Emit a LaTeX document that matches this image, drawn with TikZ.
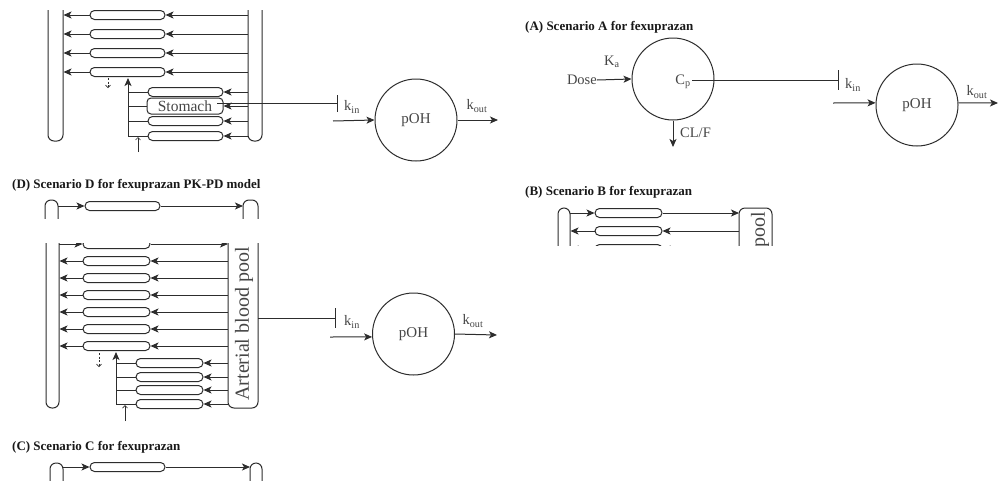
\documentclass[tikz,border=0pt]{standalone}
\usepackage{fontspec}
\setmainfont{Liberation Serif}
\usetikzlibrary{arrows.meta}
\definecolor{lc}{RGB}{45,45,45}
\definecolor{tc}{RGB}{70,70,70}
\tikzset{
  base/.style={line width=1pt, draw=lc},
  arr/.style={base, -{Stealth[length=8pt,width=7pt,inset=2pt]}},
  thinarr/.style={draw=lc, line width=0.7pt, -{Straight Barb[length=2.5pt,width=5pt]}},
  dasharr/.style={thinarr, dash pattern=on 2pt off 1.5pt},
  comp/.style={base, rounded corners=4.5pt, minimum height=9pt, inner sep=0pt},
  tube/.style={base, rounded corners=6pt},
  pdcirc/.style={base, circle, minimum size=82pt, inner sep=0pt, text=tc, font=\fontsize{15}{15}\selectfont},
  ttl/.style={anchor=west, font=\bfseries\fontsize{13}{13}\selectfont, inner sep=0pt, text=black!90},
  lab/.style={text=tc, font=\fontsize{14.5}{14.5}\selectfont, inner sep=0pt},
  pooltxt/.style={text=tc, font=\fontsize{20}{20}\selectfont, inner sep=0pt, rotate=90},
}
\begin{document}
\begin{tikzpicture}[x=1pt,y=-1pt]
\useasboundingbox[fill=white] (0,0) rectangle (998,480);

% ---------- top-left panel ----------
\draw[tube] (48,10) -- (48,141) -- (63,141) -- (63,10);
\draw[tube] (248,10) -- (248,141) -- (262,141) -- (262,10);
\foreach \i/\y in {1/15,2/34,3/53,4/72}{
  \node[comp, minimum width=75pt] (tl\i) at (127.5,\y) {};
  \draw[arr] (tl\i.west) -- (63.5,\y);
  \draw[arr] (248,\y) -- (tl\i.east);
}
\foreach \i/\y in {1/92,3/121,4/136}{
  \node[comp, minimum width=75pt] (tb\i) at (185.5,\y) {};
  \draw[base] (128,\y) -- (tb\i.west);
  \draw[arr] (248,\y) -- (tb\i.east);
}
\node[comp, minimum width=76pt, minimum height=16pt, rounded corners=4pt, text=tc, font=\fontsize{15.5}{15.5}\selectfont] (stom) at (185,106) {Stomach};
\draw[base] (128,106) -- (stom.west);
\draw[arr] (248,106) -- (stom.east);
\draw[arr] (128,136) -- (128,78);
\draw[dasharr] (108,78) -- (108,88);
\draw[thinarr] (138,152) -- (138,137);
\node[pdcirc] (poh1) at (416,120) {pOH};
\coordinate (inh1) at (337,103);
\draw[base] (217,103) -- (inh1);
\draw[base] (337,95) -- (337,112);
\node[lab, anchor=west] (kin1) at (344,107) {k\textsubscript{in}};
\coordinate (s1) at (333,121);
\draw[arr] (s1) -- (poh1.west);
\coordinate (e1) at (498,120);
\draw[arr] (poh1.east) -- (e1);
\node[lab] (kout1) at (477,106) {k\textsubscript{out}};

% ---------- panel A ----------
\node[ttl] (tA) at (525,27) {(A) Scenario A for fexuprazan};
\node[pdcirc] (cp) at (673,79) {};
\node[lab] (cplab) at (683,82) {C\textsubscript{p}};
\node[lab, anchor=east] (dose) at (597,80) {Dose};
\draw[arr] (dose.east) -- (cp.west);
\node[lab, anchor=west] (ka) at (604,62) {K\textsubscript{a}};
\coordinate (inhA) at (838,80);
\draw[base] (692,80) -- (inhA);
\draw[base] (838,70) -- (838,90);
\node[lab, anchor=west] (kinA) at (845,85) {k\textsubscript{in}};
\node[pdcirc] (poh2) at (917,105) {pOH};
\coordinate (sA) at (833,103);
\draw[arr] (sA) -- (poh2.177);
\coordinate (eA) at (998,103);
\draw[arr] (poh2.3) -- (eA);
\node[lab] (koutA) at (977,92) {k\textsubscript{out}};
\coordinate (clA) at (673,147);
\draw[arr] (cp.south) -- (clA);
\node[lab, anchor=west] (clf) at (680,133) {CL/F};

% ---------- panel B ----------
\node[ttl] (tB) at (525,192) {(B) Scenario B for fexuprazan};
\begin{scope}
  \clip (540,200) rectangle (800,245);
  \draw[tube] (558,255) -- (558,208) -- (570,208) -- (570,255);
  \draw[tube] (739,255) -- (739,208) -- (772,208) -- (772,255);
  \node[comp, minimum width=67pt] (b1) at (628.5,213) {};
  \draw[arr] (570,213) -- (b1.west);
  \draw[arr] (b1.east) -- (739,213);
  \foreach \i/\y in {2/231,3/249}{
    \node[comp, minimum width=67pt] (b\i) at (628.5,\y) {};
    \draw[arr] (739,\y) -- (b\i.east);
    \draw[arr] (b\i.west) -- (570.5,\y);
  }
  \node[pooltxt, anchor=east] (poolB) at (760,212) {pool};
\end{scope}

% ---------- panel D ----------
\node[ttl] (tD) at (12,185) {(D) Scenario D for fexuprazan PK-PD model};
\begin{scope}
  \clip (30,195) rectangle (280,218);
  \draw[tube] (45,225) -- (45,200) -- (58,200) -- (58,225);
  \draw[tube] (243,225) -- (243,200) -- (258,200) -- (258,225);
  \node[comp, minimum width=75pt] (dt) at (122.5,206) {};
  \draw[arr] (58,206) -- (dt.west);
  \draw[arr] (dt.east) -- (243,206);
\end{scope}
\begin{scope}
  \clip (30,243) rectangle (280,430);
  \draw[tube] (46,230) -- (46,408) -- (59,408) -- (59,230);
  \draw[tube] (228,230) -- (228,408) -- (258,408) -- (258,230);
  \node[comp, minimum width=67pt] (d0) at (116.5,244) {};
  \draw[arr] (59,244) -- (d0.west);
  \draw[arr] (d0.east) -- (228,244);
  \foreach \i/\y in {1/261,2/278,3/295,4/312,5/329,6/346}{
    \node[comp, minimum width=67pt] (d\i) at (116.5,\y) {};
    \draw[arr] (228,\y) -- (d\i.east);
    \draw[arr] (d\i.west) -- (59.5,\y);
  }
  \foreach \i/\y in {1/363,2/377,3/390,4/404}{
    \node[comp, minimum width=67pt] (db\i) at (169.5,\y) {};
    \draw[base] (116,\y) -- (db\i.west);
    \draw[arr] (228,\y) -- (db\i.east);
  }
  \draw[arr] (116,404) -- (116,352);
  \draw[dasharr] (99,353) -- (99,367);
  \draw[thinarr] (125,421) -- (125,405);
  \node[pooltxt] (poolD) at (244,324) {Arterial blood pool};
\end{scope}
\coordinate (inhD) at (335,318);
\draw[base] (258,318) -- (inhD);
\draw[base] (335,308) -- (335,328);
\node[lab, anchor=west] (kinD) at (344,322) {k\textsubscript{in}};
\node[pdcirc] (poh3) at (413.5,334) {pOH};
\coordinate (sD) at (330,337);
\draw[arr] (sD) -- (poh3.184);
\coordinate (eD) at (497,335);
\draw[arr] (poh3.east) -- (eD);
\node[lab] (koutD) at (473,321) {k\textsubscript{out}};

% ---------- panel C ----------
\node[ttl] (tC) at (12,447) {(C) Scenario C for fexuprazan};
\begin{scope}
  \clip (30,455) rectangle (280,480);
  \draw[tube] (50,490) -- (50,463) -- (63,463) -- (63,490);
  \draw[tube] (250,490) -- (250,463) -- (262,463) -- (262,490);
  \node[comp, minimum width=75pt] (c1) at (127.5,467) {};
  \draw[arr] (63,467) -- (c1.west);
  \draw[arr] (c1.east) -- (250,467);
\end{scope}
\end{tikzpicture}
\end{document}
